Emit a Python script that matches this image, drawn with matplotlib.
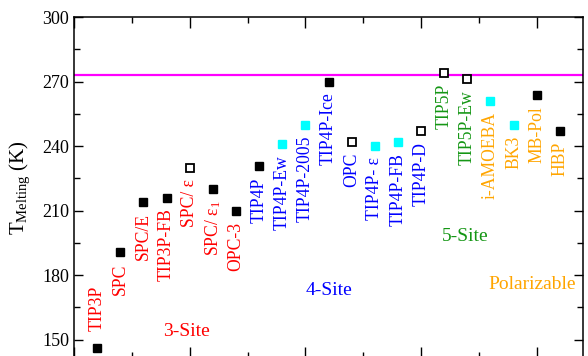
import numpy as np
import matplotlib
matplotlib.use('Agg')
import matplotlib.pyplot as plt
from matplotlib.ticker import MultipleLocator

plt.rcParams['font.family'] = ['Liberation Serif', 'DejaVu Serif']
plt.rcParams['mathtext.fontset'] = 'custom'
plt.rcParams['mathtext.rm'] = 'Liberation Serif'
plt.rcParams['mathtext.it'] = 'Liberation Serif:italic'

# water models and their melting temperatures (K)
models = ['TIP3P', 'SPC', 'SPC/E', 'TIP3P-FB', 'SPC/ ε', 'SPC/ ε$_1$', 'OPC-3',
          'TIP4P', 'TIP4P-Ew', 'TIP4P-2005', 'TIP4P-Ice', 'OPC', 'TIP4P- ε',
          'TIP4P-FB', 'TIP4P-D', 'TIP5P', 'TIP5P-Ew', 'i-AMOEBA', 'BK3',
          'MB-Pol', 'HBP']
t_melt = [146, 190.5, 214, 216, 230, 220, 210,
          230.5, 241, 250, 270, 242, 240,
          242, 247, 274, 271, 261, 250,
          263.5, 247]
kind = ['filled', 'filled', 'filled', 'filled', 'open', 'filled', 'filled',
        'filled', 'cyan', 'cyan', 'filled', 'open', 'cyan',
        'cyan', 'open', 'open', 'open', 'cyan', 'cyan',
        'filled', 'filled']
group = ['3'] * 7 + ['4'] * 8 + ['5'] * 2 + ['pol'] * 4
t_exp = 273.15

group_colors = {'3': '#ff0000', '4': '#0000ff', '5': '#149614', 'pol': '#ffa500'}
group_names = {'3': '3-Site', '4': '4-Site', '5': '5-Site', 'pol': 'Polarizable'}
group_pos = {'3': (4.87, 153.5), '4': (11.0, 173), '5': (16.9, 198), 'pol': (19.8, 175.5)}

x = np.arange(1, len(models) + 1)
t_melt = np.array(t_melt)
kind = np.array(kind)

fig = plt.figure(figsize=(5.88, 3.56), dpi=100)
ax = fig.add_axes([74 / 588, -0.0050, 509 / 588, 0.9572])

ax.axhline(t_exp, color='#ff00ff', lw=1.6, zorder=1)

m = kind == 'filled'
ax.plot(x[m], t_melt[m], 's', color='k', ms=6.3, zorder=3)
m = kind == 'open'
ax.plot(x[m], t_melt[m], 's', mfc='white', mec='k', mew=1.3, ms=6.2, zorder=3)
m = kind == 'cyan'
ax.plot(x[m], t_melt[m], 's', color='#00ffff', ms=6.3, zorder=3)

for xi, yi, name, g in zip(x, t_melt, models, group):
    if name == 'TIP3P':
        ax.annotate(name, (xi, yi), xytext=(0, 17), textcoords='offset pixels',
                    rotation=90, ha='center', va='bottom', fontsize=12.7,
                    color=group_colors[g])
    else:
        ax.annotate(name, (xi, yi), xytext=(0, -11), textcoords='offset pixels',
                    rotation=90, ha='center', va='top', fontsize=12.7,
                    color=group_colors[g])

for g, (gx, gy) in group_pos.items():
    ax.text(gx, gy, group_names[g], color=group_colors[g], fontsize=14,
            ha='center', va='center')

ax.set_xlim(0, 22)
ax.set_ylim(141.5, 300)
ax.xaxis.set_major_locator(MultipleLocator(5))
ax.xaxis.set_minor_locator(MultipleLocator(2.5))
ax.yaxis.set_major_locator(MultipleLocator(30))
ax.yaxis.set_minor_locator(MultipleLocator(15))
ax.tick_params(which='both', direction='in', top=True, right=True, width=1.0)
ax.tick_params(axis='y', which='major', length=6.5, labelsize=13)
ax.tick_params(axis='y', which='minor', length=4)
ax.tick_params(axis='x', which='major', length=8, labelbottom=False)
ax.tick_params(axis='x', which='minor', length=4)
for s in ax.spines.values():
    s.set_linewidth(1.1)

ax.set_ylabel(r'T$_{\rm Melting}$ (K)', fontsize=15, labelpad=7)

fig.savefig('out.png', dpi=100)
